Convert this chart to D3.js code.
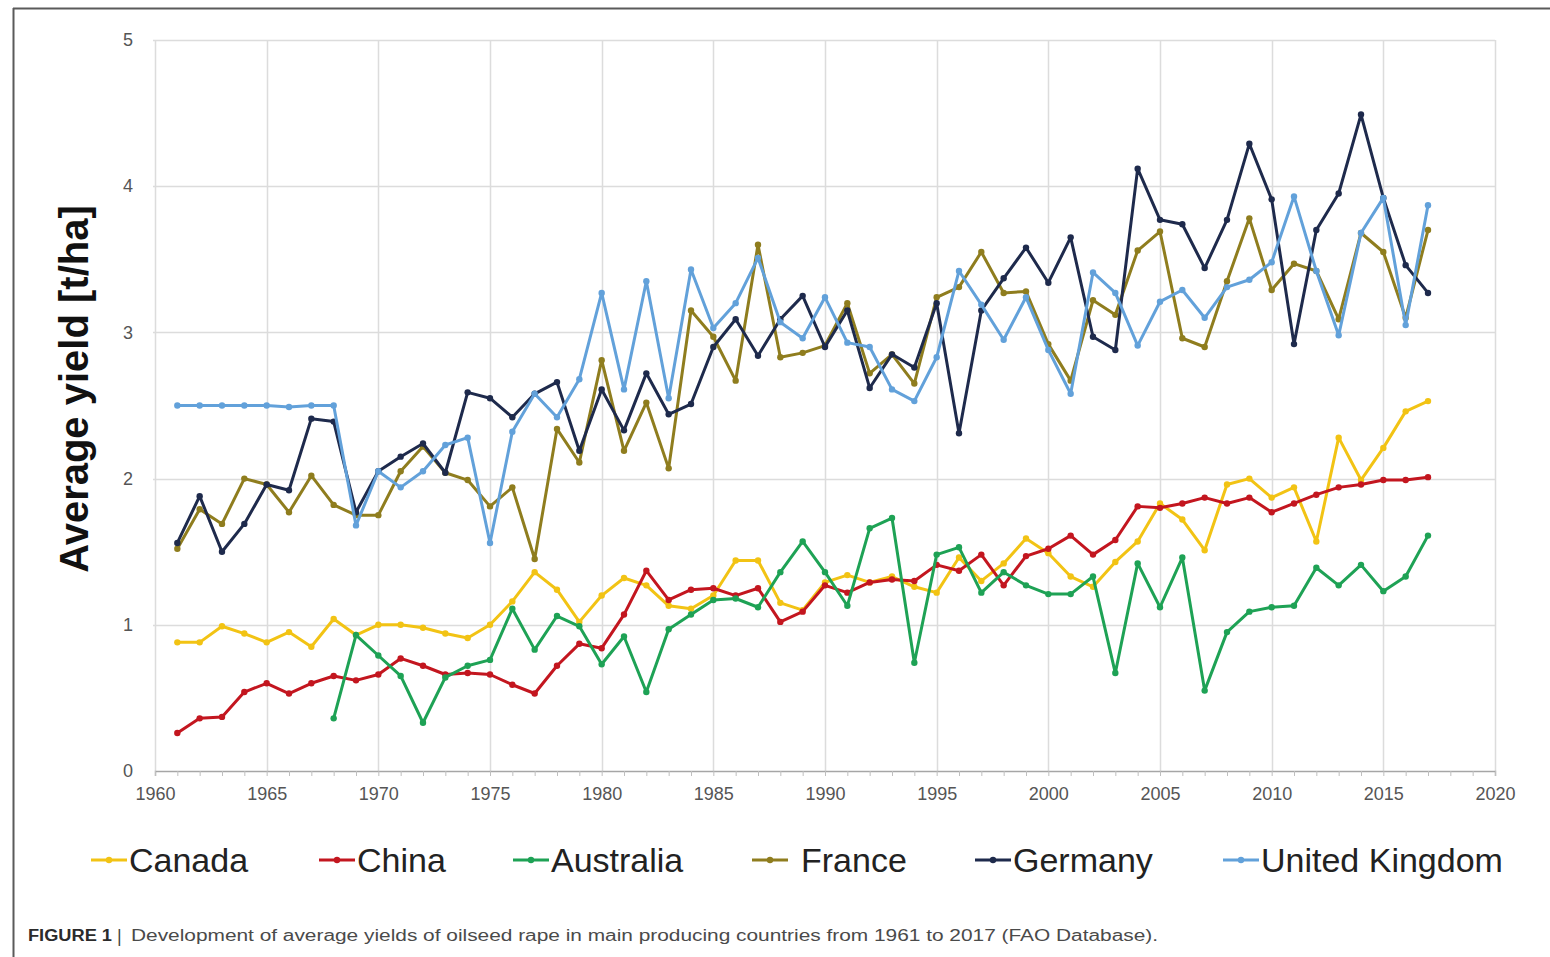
<!DOCTYPE html>
<html>
<head>
<meta charset="utf-8">
<script src="https://cdn.jsdelivr.net/npm/d3@7"></script>
<style>
  html, body { margin: 0; padding: 0; background: #fff; }
  svg { display: block; font-family: "Liberation Sans", Arial, Helvetica, sans-serif; }
</style>
</head>
<body>
<svg id="chart" width="1550" height="957"></svg>
<script>
// Oilseed rape average yields (t/ha), 1961–2017
const years = d3.range(1961, 2018);

const canada = [0.88,0.88,0.99,0.94,0.88,0.95,0.85,1.04,0.93,1.00,
                1.00,0.98,0.94,0.91,1.00,1.16,1.36,1.24,1.02,1.20,
                1.32,1.27,1.13,1.11,1.20,1.44,1.44,1.15,1.10,1.29,
                1.34,1.29,1.33,1.26,1.22,1.46,1.30,1.42,1.59,1.49,
                1.33,1.26,1.43,1.57,1.83,1.72,1.51,1.96,2.00,1.87,
                1.94,1.57,2.28,1.99,2.21,2.46,2.53];

const china = [0.26,0.36,0.37,0.54,0.60,0.53,0.60,0.65,0.62,0.66,
               0.77,0.72,0.66,0.67,0.66,0.59,0.53,0.72,0.87,0.84,
               1.07,1.37,1.17,1.24,1.25,1.20,1.25,1.02,1.09,1.27,
               1.22,1.29,1.31,1.30,1.41,1.37,1.48,1.27,1.47,1.52,
               1.61,1.48,1.58,1.81,1.80,1.83,1.87,1.83,1.87,1.77,
               1.83,1.89,1.94,1.96,1.99,1.99,2.01];

const australia = [null,null,null,null,null,null,null,0.36,0.93,0.79,
                   0.65,0.33,0.64,0.72,0.76,1.11,0.83,1.06,0.99,0.73,
                   0.92,0.54,0.97,1.07,1.17,1.18,1.12,1.36,1.57,1.36,
                   1.13,1.66,1.73,0.74,1.48,1.53,1.22,1.36,1.27,1.21,
                   1.21,1.33,0.67,1.42,1.12,1.46,0.55,0.95,1.09,1.12,
                   1.13,1.39,1.27,1.41,1.23,1.33,1.61];

const france = [1.52,1.79,1.69,2.00,1.96,1.77,2.02,1.82,1.75,1.75,
                2.05,2.22,2.04,1.99,1.81,1.94,1.45,2.34,2.11,2.81,
                2.19,2.52,2.07,3.15,2.97,2.67,3.60,2.83,2.86,2.91,
                3.20,2.72,2.85,2.65,3.24,3.31,3.55,3.27,3.28,2.92,
                2.67,3.22,3.12,3.56,3.69,2.96,2.90,3.35,3.78,3.29,
                3.47,3.42,3.09,3.68,3.55,3.10,3.70];

const germany = [1.56,1.88,1.50,1.69,1.96,1.92,2.41,2.39,1.77,2.05,
                 2.15,2.24,2.04,2.59,2.55,2.42,2.58,2.66,2.19,2.61,
                 2.33,2.72,2.44,2.51,2.90,3.09,2.84,3.09,3.25,2.90,
                 3.15,2.62,2.85,2.76,3.20,2.31,3.15,3.37,3.58,3.34,
                 3.65,2.97,2.88,4.12,3.77,3.74,3.44,3.77,4.29,3.91,
                 2.92,3.70,3.95,4.49,3.92,3.46,3.27];

const unitedKingdom = [2.50,2.50,2.50,2.50,2.50,2.49,2.50,2.50,1.68,2.05,
                       1.94,2.05,2.23,2.28,1.56,2.32,2.58,2.42,2.68,3.27,
                       2.61,3.35,2.55,3.43,3.03,3.20,3.51,3.07,2.96,3.24,
                       2.93,2.90,2.61,2.53,2.83,3.42,3.19,2.95,3.24,2.88,
                       2.58,3.41,3.27,2.91,3.21,3.29,3.10,3.31,3.36,3.48,
                       3.93,3.42,2.98,3.68,3.92,3.05,3.87];

const seriesNames = ["Canada", "China", "Australia", "France", "Germany", "United Kingdom"];
const seriesValues = [canada, china, australia, france, germany, unitedKingdom];
const seriesColors = ["#f2c314", "#c3161f", "#1ea255", "#8f7d1e", "#1e2a4c", "#62a1da"];

const xTicks = [1960, 1965, 1970, 1975, 1980, 1985, 1990, 1995, 2000, 2005, 2010, 2015, 2020];
const yTicks = [0, 1, 2, 3, 4, 5];

const yTitle = "Average yield [t/ha]";
const captionLead = "FIGURE 1";
const captionText = "Development of average yields of oilseed rape in main producing countries from 1961 to 2017 (FAO Database).";

const svg = d3.select("#chart");

// frame around the figure
svg.append("line").attr("x1", 13).attr("x2", 1550).attr("y1", 8.5).attr("y2", 8.5)
   .attr("stroke", "#5a5a5a").attr("stroke-width", 2);
svg.append("line").attr("x1", 13.5).attr("x2", 13.5).attr("y1", 8).attr("y2", 957)
   .attr("stroke", "#5a5a5a").attr("stroke-width", 2);

const x = d3.scaleLinear().domain([1960, 2020]).range([155, 1495]);
const y = d3.scaleLinear().domain([0, 5]).range([771, 40]);

// gridlines
const grid = svg.append("g");
grid.selectAll("line.h").data(yTicks.filter(d => d > 0)).join("line")
  .attr("x1", x(1960) - 2).attr("x2", x(2020))
  .attr("y1", d => Math.round(y(d)) + 0.5).attr("y2", d => Math.round(y(d)) + 0.5)
  .attr("stroke", "#dcdcdc").attr("stroke-width", 1.5);
grid.selectAll("line.v").data(xTicks).join("line")
  .attr("x1", d => Math.round(x(d)) + 0.5).attr("x2", d => Math.round(x(d)) + 0.5)
  .attr("y1", y(5)).attr("y2", y(0))
  .attr("stroke", "#dcdcdc").attr("stroke-width", 1.5);

// x axis with yearly minor ticks
const xAxis = d3.axisBottom(x)
  .tickValues(d3.range(1960, 2021))
  .tickSize(5)
  .tickFormat(d => xTicks.includes(d) ? d : "");
const gx = svg.append("g").attr("transform", `translate(0,${y(0)})`).call(xAxis);
gx.select(".domain").attr("stroke", "#a6a6a6").attr("stroke-width", 1.5);
gx.selectAll(".tick line").attr("stroke", "#bfbfbf");
gx.selectAll(".tick text")
  .attr("y", 16)
  .attr("font-size", 18).attr("fill", "#555").attr("font-family", "Liberation Sans, Arial, sans-serif");

// y axis labels
const yAxis = d3.axisLeft(y).tickValues(yTicks).tickSize(0).tickPadding(22).tickFormat(d3.format("d"));
const gy = svg.append("g").attr("transform", `translate(${x(1960)},0)`).call(yAxis);
gy.select(".domain").remove();
gy.selectAll(".tick text")
  .attr("font-size", 18).attr("fill", "#555").attr("font-family", "Liberation Sans, Arial, sans-serif");

// y axis title
svg.append("text")
  .attr("transform", `translate(88,389) rotate(-90)`)
  .attr("text-anchor", "middle")
  .attr("font-size", 40).attr("font-weight", "bold").attr("fill", "#111")
  .text(yTitle);

// series lines and markers
const line = d3.line()
  .defined(d => d.v != null)
  .x(d => x(d.year))
  .y(d => y(d.v));

const plot = svg.append("g");
seriesValues.forEach((vals, i) => {
  const pts = years.map((yr, j) => ({ year: yr, v: vals[j] }));
  const g = plot.append("g");
  g.append("path").datum(pts)
    .attr("d", line)
    .attr("fill", "none")
    .attr("stroke", seriesColors[i])
    .attr("stroke-width", 3)
    .attr("stroke-linejoin", "round");
  g.selectAll("circle").data(pts.filter(d => d.v != null)).join("circle")
    .attr("cx", d => x(d.year)).attr("cy", d => y(d.v))
    .attr("r", 3.2).attr("fill", seriesColors[i]);
});

// legend
const legendX = [91, 319, 513, 752, 975, 1223];
const legend = svg.append("g");
seriesNames.forEach((name, i) => {
  const lx = legendX[i];
  legend.append("line")
    .attr("x1", lx).attr("x2", lx + 36).attr("y1", 860).attr("y2", 860)
    .attr("stroke", seriesColors[i]).attr("stroke-width", 3);
  legend.append("circle").attr("cx", lx + 18).attr("cy", 860).attr("r", 3.2).attr("fill", seriesColors[i]);
  legend.append("text")
    .attr("x", lx + 38 + (name === "France" ? 11 : 0)).attr("y", 872)
    .attr("font-size", 34).attr("fill", "#222")
    .text(name);
});

// caption
svg.append("text")
  .attr("x", 28).attr("y", 941)
  .attr("font-size", 16).attr("font-weight", "bold").attr("fill", "#2b2b2b")
  .attr("textLength", 84).attr("lengthAdjust", "spacingAndGlyphs")
  .text(captionLead);
svg.append("text")
  .attr("x", 117).attr("y", 942)
  .attr("font-size", 18).attr("fill", "#444")
  .text("|");
svg.append("text")
  .attr("x", 131).attr("y", 941)
  .attr("font-size", 16).attr("fill", "#4a4a4a")
  .attr("textLength", 1027).attr("lengthAdjust", "spacingAndGlyphs")
  .text(captionText);
</script>
</body>
</html>
